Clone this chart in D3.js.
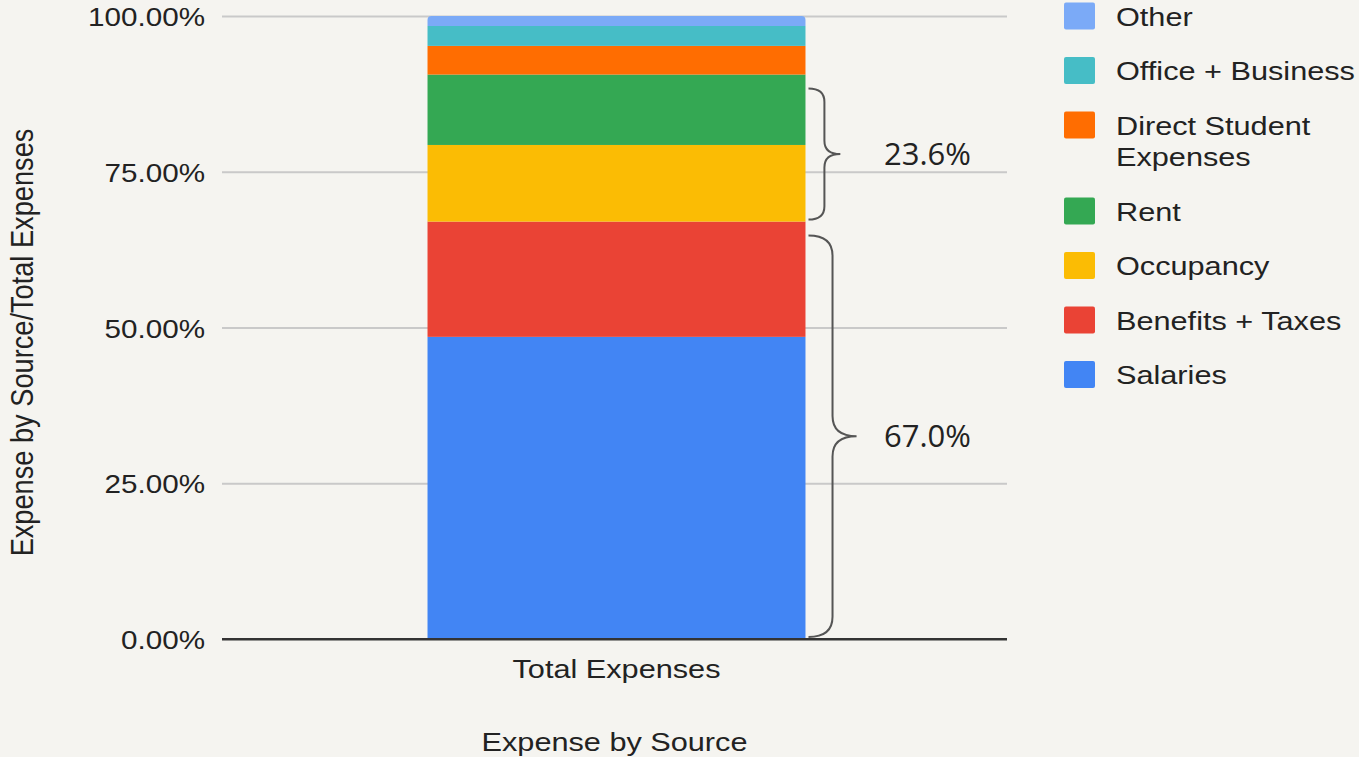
<!DOCTYPE html>
<html>
<head>
<meta charset="utf-8">
<script src="https://cdn.jsdelivr.net/npm/d3@7"></script>
<style>
  body { margin: 0; background: #f5f4f0; }
  svg { display: block; }
  text { font-family: "Liberation Sans", Arial, sans-serif; fill: #222; }
</style>
</head>
<body>
<div id="chart"></div>
<script>
// data (percent of total expenses)
var categories = ["Total Expenses"]
var seriesNames = ["Salaries", "Benefits + Taxes", "Occupancy", "Rent", "Direct Student Expenses", "Office + Business", "Other"]
var seriesValues = [48.5, 18.5, 12.3, 11.3, 4.6, 3.2, 1.6]
var palette = ["#4285f4", "#ea4335", "#fbbc04", "#34a853", "#ff6d01", "#46bdc6", "#7baaf7"]
var yTicks = [0, 25, 50, 75, 100]
// groups bracketed on the right of the bar
var braceGroups = [["Salaries", "Benefits + Taxes"], ["Occupancy", "Rent"]]
var xTitle = "Expense by Source"
var yTitle = "Expense by Source/Total Expenses"

var W = 1359, H = 757
var SX = 1.14   // numbers: the original text looks a bit wide
var SXT = 1.18  // words are stretched a touch more
// note: "top" is taken by window.top, so plot edges get their own names
var plotL = 222, plotR = 1007, plotT = 16, plotB = 639

var svg = d3.select("#chart").append("svg")
  .attr("width", W)
  .attr("height", H)

var row = {}
seriesNames.forEach(function(n, i){ row[n] = seriesValues[i] })
var table = categories.map(function(c){ return Object.assign({cat: c}, row) })
var stacked = d3.stack().keys(seriesNames)(table)

var x = d3.scaleBand().domain(categories).range([plotL + 2, plotR + 2]).padding(0.35)
var y = d3.scaleLinear().domain([0, 100]).range([plotB, plotT])
var color = d3.scaleOrdinal().domain(seriesNames).range(palette)

// gridlines + y labels
var yAxis = svg.append("g")
  .attr("transform", "translate(" + plotL + ",0)")
  .call(d3.axisLeft(y).tickValues(yTicks).tickSize(-(plotR - plotL)).tickFormat(function(d){ return d.toFixed(2) + "%" }))
yAxis.select(".domain").remove()
yAxis.selectAll(".tick line")
  .attr("stroke", function(d){ return d === 0 ? "#333" : "#c9c9c9" })
  .attr("stroke-width", 2)
yAxis.selectAll(".tick text")
  .attr("x", null).attr("dy", null)
  .attr("transform", "translate(-17,9.5) scale(" + SX + ",1)")
  .attr("text-anchor", "end")
  .style("font-size", "26px")
  .style("font-family", "'Liberation Sans', Arial, sans-serif")
  .attr("fill", "#222")

// bars
var barG = svg.append("g")
stacked.forEach(function(layer, li){
  layer.forEach(function(d){
    var isTop = li === stacked.length - 1
    var x0 = x(d.data.cat), bw = x.bandwidth()
    var y0 = y(d[0]), y1 = y(d[1])
    if (isTop) {
      var r = 4
      barG.append("path")
        .attr("d", "M" + x0 + "," + y0 + "V" + (y1 + r) + "Q" + x0 + "," + y1 + " " + (x0 + r) + "," + y1 +
          "H" + (x0 + bw - r) + "Q" + (x0 + bw) + "," + y1 + " " + (x0 + bw) + "," + (y1 + r) + "V" + y0 + "Z")
        .attr("fill", color(layer.key))
    } else {
      barG.append("rect")
        .attr("x", x0).attr("width", bw)
        .attr("y", y1).attr("height", y0 - y1)
        .attr("fill", color(layer.key))
    }
  })
})
// baseline on top of bar
svg.append("line")
  .attr("x1", plotL).attr("x2", plotR)
  .attr("y1", y(0)).attr("y2", y(0))
  .attr("stroke", "#333").attr("stroke-width", 2)

// x labels
categories.forEach(function(c){
  svg.append("text")
    .attr("transform", "translate(" + (x(c) + x.bandwidth() / 2) + ",678) scale(" + SXT + ",1)")
    .attr("text-anchor", "middle")
    .style("font-size", "26px")
    .text(c)
})
svg.append("text")
  .attr("transform", "translate(" + ((plotL + plotR) / 2) + ",751) scale(" + SXT + ",1)")
  .attr("text-anchor", "middle")
  .style("font-size", "26px")
  .text(xTitle)
svg.append("text")
  .attr("transform", "translate(33," + ((plotT + plotB) / 2 + 15) + ") scale(" + SX + ",1) rotate(-90)")
  .attr("text-anchor", "middle")
  .style("font-size", "27.2px")
  .text(yTitle)

// braces
var barRight = x(categories[0]) + x.bandwidth()
braceGroups.forEach(function(g){
  var i0 = seriesNames.indexOf(g[0]), i1 = seriesNames.indexOf(g[g.length - 1])
  var v0 = stacked[i0][0][0], v1 = stacked[i1][0][1]
  var yb = y(v0) - 2, yt = y(v1) + 14
  var span = yb - yt
  var depth = 24 + span * 0.06
  var x0 = barRight + 3, xm = x0 + depth / 2, xt = x0 + depth
  var ym = (yt + yb) / 2, c = depth * 0.42
  svg.append("path")
    .attr("d", "M" + x0 + "," + yt + "Q" + xm + "," + yt + " " + xm + "," + (yt + c) +
      "L" + xm + "," + (ym - c) + "Q" + xm + "," + ym + " " + xt + "," + ym +
      "Q" + xm + "," + ym + " " + xm + "," + (ym + c) +
      "L" + xm + "," + (yb - c) + "Q" + xm + "," + yb + " " + x0 + "," + yb)
    .attr("fill", "none")
    .attr("stroke", "#555")
    .attr("stroke-width", 2)
  svg.append("text")
    .attr("x", 884).attr("y", ym + 11)
    .style("font-family", "'Open Sans', 'Noto Sans', sans-serif")
    .style("font-size", "31px")
    .attr("fill", "#111")
    .text((v1 - v0).toFixed(1) + "%")
})

// legend
var legend = svg.append("g")
var cy = 16
seriesNames.slice().reverse().forEach(function(n){
  legend.append("rect")
    .attr("x", 1064).attr("y", cy - 13.5)
    .attr("width", 31).attr("height", 27)
    .attr("rx", 2)
    .attr("fill", color(n))
  // simple word wrap
  var words = n.split(" "), lines = [], cur = ""
  var probe = legend.append("text").style("font-size", "26px")
  words.forEach(function(w){
    var t = cur ? cur + " " + w : w
    probe.text(t)
    if (probe.node().getComputedTextLength() * SXT > 240 && cur) { lines.push(cur); cur = w }
    else cur = t
  })
  lines.push(cur)
  probe.remove()
  lines.forEach(function(l, k){
    legend.append("text")
      .attr("transform", "translate(1116," + (cy + 9.5 + k * 31) + ") scale(" + SXT + ",1)")
      .style("font-size", "26px")
      .text(l)
  })
  cy += 54.5 + (lines.length - 1) * 31.5
})
</script>
</body>
</html>
